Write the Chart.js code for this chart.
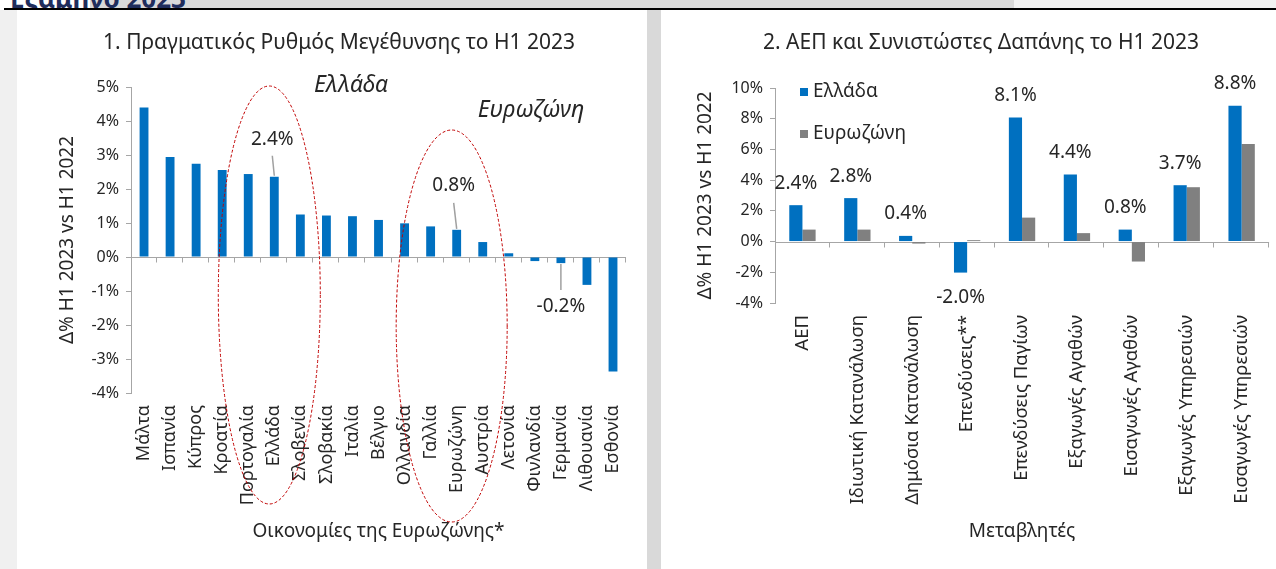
<!DOCTYPE html>
<html><head><meta charset="utf-8">
<script src="https://cdn.jsdelivr.net/npm/chart.js@4.4.0/dist/chart.umd.min.js"></script>
<style>
body{margin:0;width:1276px;height:569px;overflow:hidden;background:#fff;position:relative;font-family:'Noto Sans',sans-serif;}
#topL{position:absolute;left:0;top:0;width:90px;height:8px;background:#fff}
#topM{position:absolute;left:90px;top:0;width:924px;height:8px;background:#d9d9d9}
#topR{position:absolute;left:1014px;top:0;width:262px;height:8px;background:#f2f2f2}
#headclip{position:absolute;left:0;top:0;width:260px;height:8px;overflow:hidden}
#headtxt{position:absolute;left:10px;top:-20px;font:bold 26px 'Noto Sans';color:#1f2d5c;white-space:nowrap}
#rule{position:absolute;left:4px;top:8px;width:1272px;height:2px;background:#000}
#stripL{position:absolute;left:0;top:10px;width:17px;height:559px;background:#f0f0f0}
#stripM{position:absolute;left:647px;top:10px;width:14px;height:559px;background:#d9d9d9}
#c1wrap{position:absolute;left:17px;top:10px;width:630px;height:559px}
#c2wrap{position:absolute;left:661px;top:10px;width:615px;height:559px}
</style></head>
<body>
<div id="topL"></div><div id="topM"></div><div id="topR"></div>
<div id="headclip"><div id="headtxt">Εξάμηνο 2023</div></div>
<div id="rule"></div>
<div id="stripL"></div><div id="stripM"></div>
<div id="c1wrap"><canvas id="c1"></canvas></div>
<div id="c2wrap"><canvas id="c2"></canvas></div>
<script>
// ---------- Chart 1 data ----------
const countries = ['Μάλτα','Ισπανία','Κύπρος','Κροατία','Πορτογαλία','Ελλάδα','Σλοβενία','Σλοβακία','Ιταλία','Βέλγιο','Ολλανδία','Γαλλία','Ευρωζώνη','Αυστρία','Λετονία','Φινλανδία','Γερμανία','Λιθουανία','Εσθονία'];
const growth = [4.40,2.94,2.74,2.56,2.44,2.36,1.25,1.22,1.20,1.09,0.99,0.90,0.80,0.44,0.11,-0.12,-0.18,-0.82,-3.37];
const calloutCountries = ['Ελλάδα','Ευρωζώνη','Γερμανία'];
const circledCountries = ['Ελλάδα','Ευρωζώνη'];
const circleNotes = ['Ελλάδα','Ευρωζώνη'];
const chart1Title = '1. Πραγματικός Ρυθμός Μεγέθυνσης το H1 2023';
const chart1XTitle = 'Οικονομίες της Ευρωζώνης*';
const yTitle = 'Δ% H1 2023 vs H1 2022';

// ---------- Chart 2 data ----------
const components = ['ΑΕΠ','Ιδιωτική Κατανάλωση','Δημόσια Κατανάλωση','Επενδύσεις**','Επενδύσεις Παγίων','Εξαγωγές Αγαθών','Εισαγωγές Αγαθών','Εξαγωγές Υπηρεσιών','Εισαγωγές Υπηρεσιών'];
const greece = [2.37,2.83,0.37,-2.02,8.08,4.36,0.78,3.67,8.84];
const eurozone = [0.78,0.78,-0.13,0.09,1.56,0.55,-1.30,3.54,6.36];
const seriesNames = ['Ελλάδα','Ευρωζώνη'];
const chart2Title = '2. ΑΕΠ και Συνιστώστες Δαπάνης το H1 2023';
const chart2XTitle = 'Μεταβλητές';

const BLUE = '#0070C0', GREY = '#808080', AXIS = '#a6a6a6', TXT = '#262626';
const FONT = "'Noto Sans', sans-serif";
Chart.defaults.font.family = FONT;
Chart.defaults.color = TXT;
Chart.defaults.animation = false;

const pct = v => (v.toFixed(1)) + '%';

function zeroAxis(chart){
  const {ctx, chartArea:a, scales:{x,y}} = chart;
  const y0 = Math.round(y.getPixelForValue(0)) + 0.5;
  const n = chart.data.labels.length;
  const w = (a.right - a.left) / n;
  ctx.save();
  ctx.strokeStyle = AXIS; ctx.lineWidth = 1;
  ctx.beginPath();
  ctx.moveTo(a.left, y0); ctx.lineTo(a.right, y0);
  for (let i = 1; i <= n; i++) {
    const px = Math.round(a.left + i * w) - 0.5;
    ctx.moveTo(px, y0); ctx.lineTo(px, y0 + 5);
  }
  ctx.stroke();
  ctx.restore();
}

const plugin1 = {
  id: 'deco1',
  beforeDatasetsDraw(chart){ zeroAxis(chart); },
  afterDatasetsDraw(chart){
    const {ctx, scales:{x,y}} = chart;
    const meta = chart.getDatasetMeta(0);
    ctx.save();
    // callouts
    const leader = {'Ελλάδα':[20,16,-2], 'Ευρωζώνη':[26,17,-3], 'Γερμανία':[26,16,0]};
    ctx.font = '19px ' + FONT;
    ctx.textAlign = 'center'; ctx.textBaseline = 'middle';
    calloutCountries.forEach(c => {
      const i = countries.indexOf(c);
      const el = meta.data[i];
      const v = growth[i];
      const [L, gap, dx] = leader[c];
      const sgn = v >= 0 ? -1 : 1;
      const yEnd = el.y + sgn * 1;
      ctx.strokeStyle = '#a0a0a0'; ctx.lineWidth = 1.5;
      ctx.beginPath(); ctx.moveTo(el.x, yEnd); ctx.lineTo(el.x + dx, yEnd + sgn * L); ctx.stroke();
      ctx.fillStyle = TXT;
      ctx.fillText(pct(v), el.x + dx, yEnd + sgn * (L + gap));
    });
    // ellipses
    const ell = {'Ελλάδα':{dx:-5, cy:285, rx:51, ry:209}, 'Ευρωζώνη':{dx:-5, cy:316, rx:55.5, ry:196}};
    ctx.strokeStyle = '#c00000'; ctx.lineWidth = 1; ctx.setLineDash([3,2]);
    circledCountries.forEach(c => {
      const i = countries.indexOf(c);
      const e = ell[c];
      ctx.beginPath();
      ctx.ellipse(x.getPixelForValue(i) + e.dx, e.cy, e.rx, e.ry, 0, 0, Math.PI*2);
      ctx.stroke();
    });
    ctx.setLineDash([]);
    // italic notes
    ctx.font = 'italic 23px ' + FONT;
    ctx.fillStyle = TXT;
    ctx.fillText(circleNotes[0], 334, 75);
    ctx.fillText(circleNotes[1], 514, 100);
    // title
    ctx.font = '21px ' + FONT;
    ctx.fillText(chart1Title, 322, 33);
    ctx.restore();
  }
};

new Chart(document.getElementById('c1'), {
  type: 'bar',
  data: { labels: countries, datasets: [{ data: growth, backgroundColor: BLUE, borderWidth: 0, barPercentage: 0.34, categoryPercentage: 1 }] },
  options: {
    responsive: true, maintainAspectRatio: false,
    layout: { padding: { top: 77, right: 15, left: 0, bottom: 0 } },
    plugins: { legend: { display: false }, tooltip: { enabled: false } },
    scales: {
      x: {
        grid: { display: false, drawTicks: false }, border: { display: false },
        ticks: { autoSkip: false, minRotation: 90, maxRotation: 90, padding: 12, font: { size: 18 }, color: TXT },
        title: { display: true, text: chart1XTitle, font: { size: 19 }, color: TXT, padding: { top: 0, bottom: 26 } },
        afterFit(s){ s.height = 176; }
      },
      y: {
        min: -4, max: 5,
        grid: { drawOnChartArea: false, tickLength: 5, color: AXIS }, border: { color: AXIS },
        ticks: { stepSize: 1, padding: 7, font: { size: 16 }, color: TXT, callback: v => v + '%' },
        title: { display: true, text: yTitle, font: { size: 19 }, color: TXT, padding: { top: 39, bottom: 0 } },
        afterFit(s){ s.width = 114; }
      }
    }
  },
  plugins: [plugin1]
});

const plugin2 = {
  id: 'deco2',
  beforeDatasetsDraw(chart){ zeroAxis(chart); },
  afterDatasetsDraw(chart){
    const {ctx, chartArea:a} = chart;
    const meta = chart.getDatasetMeta(0);
    ctx.save();
    ctx.font = '19px ' + FONT;
    ctx.textAlign = 'center'; ctx.textBaseline = 'middle'; ctx.fillStyle = TXT;
    meta.data.forEach((el, i) => {
      const v = greece[i];
      ctx.fillText(pct(v), el.x, v >= 0 ? el.y - 22 : el.y + 25);
    });
    // legend
    const colors = [BLUE, GREY];
    ctx.textAlign = 'left';
    seriesNames.forEach((n, k) => {
      const top = a.top + k * 42;
      ctx.fillStyle = colors[k];
      ctx.fillRect(a.left + 25, top, 8, 8);
      ctx.fillStyle = TXT;
      ctx.fillText(n, a.left + 38, top + 4);
    });
    ctx.textAlign = 'center';
    ctx.font = '21px ' + FONT;
    ctx.fillText(chart2Title, 320, 33);
    ctx.restore();
  }
};

new Chart(document.getElementById('c2'), {
  type: 'bar',
  data: { labels: components, datasets: [
    { label: seriesNames[0], data: greece, backgroundColor: BLUE, borderWidth: 0, barPercentage: 1, categoryPercentage: 0.48 },
    { label: seriesNames[1], data: eurozone, backgroundColor: GREY, borderWidth: 0, barPercentage: 1, categoryPercentage: 0.48 }
  ] },
  options: {
    responsive: true, maintainAspectRatio: false,
    layout: { padding: { top: 78, right: 3, left: 0, bottom: 0 } },
    plugins: { legend: { display: false }, tooltip: { enabled: false } },
    scales: {
      x: {
        grid: { display: false, drawTicks: false }, border: { display: false },
        ticks: { autoSkip: false, minRotation: 90, maxRotation: 90, padding: 12, font: { size: 18.5 }, color: TXT },
        title: { display: true, text: chart2XTitle, font: { size: 19 }, color: TXT, padding: { top: 0, bottom: 26 } },
        afterFit(s){ s.height = 266; }
      },
      y: {
        min: -4, max: 10,
        grid: { drawOnChartArea: false, tickLength: 5, color: AXIS }, border: { color: AXIS },
        ticks: { stepSize: 2, padding: 7, font: { size: 16 }, color: TXT, callback: v => v + '%' },
        title: { display: true, text: yTitle, font: { size: 19 }, color: TXT, padding: { top: 33, bottom: 0 } },
        afterFit(s){ s.width = 114; }
      }
    }
  },
  plugins: [plugin2]
});
</script>
</body></html>
